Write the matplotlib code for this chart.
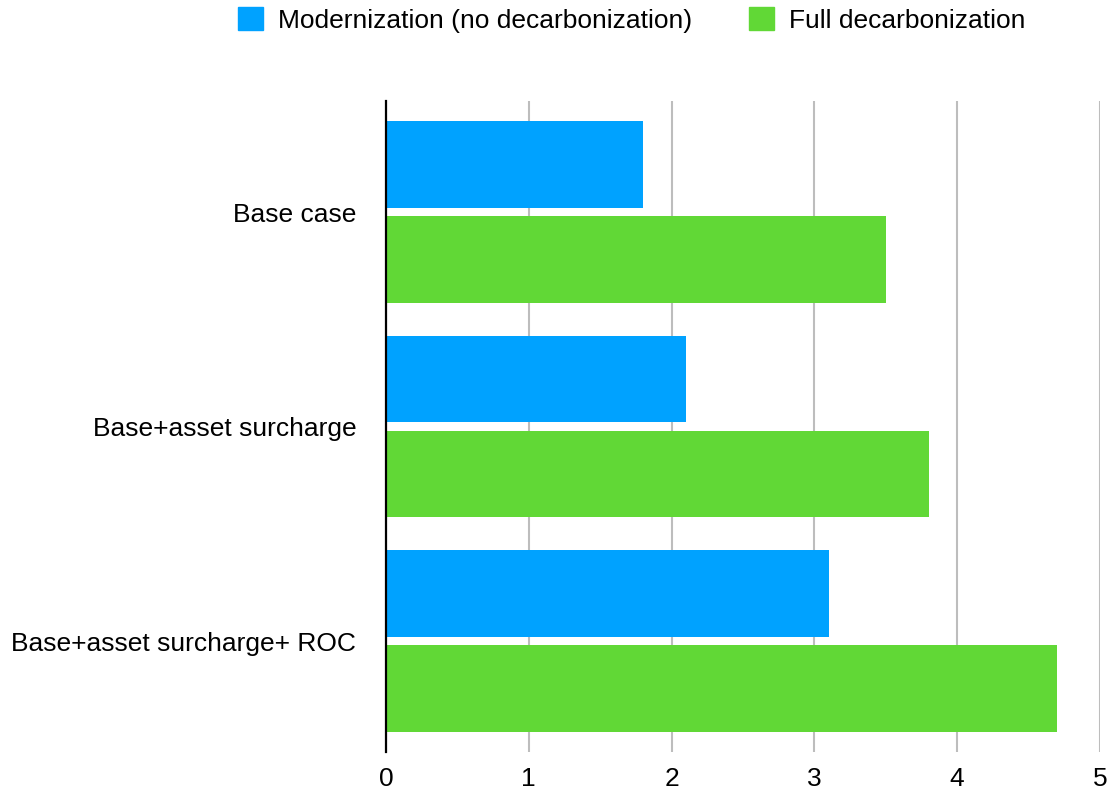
import numpy as np
import matplotlib
matplotlib.use("Agg")
import matplotlib.pyplot as plt
from matplotlib.patches import Patch

categories = ["Base case", "Base+asset surcharge", "Base+asset surcharge+ ROC"]
modernization = [1.8, 2.1, 3.1]
full_decarb = [3.5, 3.8, 4.7]
series_names = ["Modernization (no decarbonization)", "Full decarbonization"]
xticks = [0, 1, 2, 3, 4, 5]

BLUE = "#00A2FF"
GREEN = "#61D836"
FS = 19

plt.rcParams["font.family"] = ["Liberation Sans", "DejaVu Sans"]

fig = plt.figure(figsize=(11.13, 7.93), dpi=100)
ax = fig.add_axes([0.3468, 0.0517, 0.6415, 0.8209])

y = np.arange(len(categories))
h = 0.403
off = 0.2214
ax.barh(y - off, modernization, height=h, color=BLUE, zorder=3)
ax.barh(y + off, full_decarb, height=h, color=GREEN, zorder=3)

ax.set_ylim(len(categories) - 0.4825, -0.5175)
ax.set_xlim(0, 5)
ax.set_xticks(xticks)
ax.set_xticklabels([str(t) for t in xticks], fontsize=FS)
ax.set_yticks(y)
ax.set_yticklabels(categories, fontsize=FS)
ax.tick_params(axis="y", length=0, pad=21.5)
ax.tick_params(axis="x", length=0, pad=10.5)
ax.xaxis.grid(True, color="#BDBDBD", lw=1.5, zorder=0)
for s in ["top", "right", "bottom"]:
    ax.spines[s].set_visible(False)
ax.spines["left"].set_linewidth(1.6)
ax.spines["left"].set_color("black")
ax.spines["left"].set_zorder(4)

handles = [Patch(color=BLUE), Patch(color=GREEN)]
fig.legend(handles, series_names, loc="center", bbox_to_anchor=(0.5674, 0.975), ncol=2,
           frameon=False, fontsize=FS, handlelength=0.95, handleheight=0.95,
           handletextpad=0.57, columnspacing=2.16, borderpad=0, borderaxespad=0)

fig.savefig("out.png", dpi=100)
